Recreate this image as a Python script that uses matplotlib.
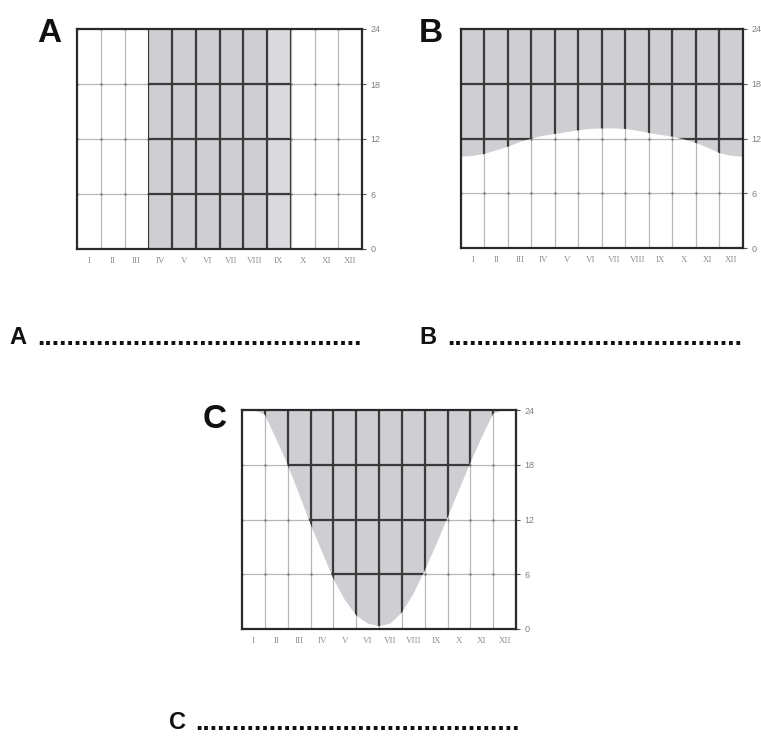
import numpy as np
import matplotlib
matplotlib.use("Agg")
import matplotlib.pyplot as plt

# ---------------- data ----------------
months = ["I", "II", "III", "IV", "V", "VI", "VII", "VIII", "IX", "X", "XI", "XII"]
hour_ticks = [0, 6, 12, 18, 24]

# Panel A: months shaded over the full 24 h
a_shaded_hours = [0, 0, 0, 24, 24, 24, 24, 24, 24, 0, 0, 0]

# Panel B / C: lower boundary of the shaded area (hours), read at half-month steps
curve_x = [0, 0.5, 1, 1.5, 2, 2.5, 3, 3.5, 4, 4.5, 5, 5.5, 6,
           6.5, 7, 7.5, 8, 8.5, 9, 9.5, 10, 10.5, 11, 11.5, 12]
b_lower = [10.0, 10.1, 10.3, 10.7, 11.1, 11.6, 12.0, 12.3, 12.5, 12.7, 12.9, 13.05, 13.1,
           13.1, 13.05, 12.85, 12.6, 12.4, 12.2, 11.9, 11.5, 11.0, 10.4, 10.1, 10.0]
c_lower = [24.0, 24.0, 23.5, 20.8, 18.0, 14.8, 11.5, 8.5, 5.5, 3.2, 1.5, 0.6, 0.3,
           0.6, 1.8, 3.8, 6.4, 9.2, 12.2, 15.2, 18.2, 21.0, 23.6, 24.0, 24.0]

SHADE = "#cfcfd3"
DARK = "#3a3a3a"
LIGHT = "#b8b8b8"

W, H = 761, 738
fig = plt.figure(figsize=(W / 100, H / 100), dpi=100)


def make_ax(x0, y0, x1, y1):
    return fig.add_axes([x0 / W, 1 - y1 / H, (x1 - x0) / W, (y1 - y0) / H])


def style(ax, shade_patches):
    ax.set_xlim(0, 12)
    ax.set_ylim(0, 24)
    # light grid everywhere
    for gx in range(1, 12):
        ax.axvline(gx, color=LIGHT, lw=0.9, zorder=2)
    for gy in hour_ticks[1:-1]:
        ax.axhline(gy, color=LIGHT, lw=0.9, zorder=2)
    gx, gy = np.meshgrid(np.arange(0, 13), hour_ticks)
    ax.scatter(gx.ravel(), gy.ravel(), s=3, color="#777777", zorder=2.5, lw=0)
    # dark grid clipped to shaded area
    for patch in shade_patches:
        for gxv in range(1, 12):
            ln = ax.axvline(gxv, color=DARK, lw=1.6, zorder=3)
            ln.set_clip_path(patch)
        for gyv in hour_ticks[1:-1]:
            ln = ax.axhline(gyv, color=DARK, lw=1.6, zorder=3)
            ln.set_clip_path(patch)
    for s in ax.spines.values():
        s.set_color("#2a2a2a")
        s.set_linewidth(1.6)
        s.set_zorder(5)
    ax.yaxis.tick_right()
    ax.set_yticks(hour_ticks)
    ax.set_yticklabels([str(h) for h in hour_ticks], fontsize=6.5, color="#808080",
                       family="Liberation Sans")
    ax.set_xticks(np.arange(12) + 0.5)
    ax.set_xticklabels(months, fontsize=6.5, color="#909090", family="Liberation Serif")
    ax.tick_params(axis="x", length=0, pad=6)
    ax.tick_params(axis="y", length=3, width=0.8, color="#555555", pad=3)


def shade_curve(ax, lower):
    xs = list(curve_x) + [12, 0]
    ys = list(lower) + [24, 24]
    polys = ax.fill(xs, ys, color=SHADE, lw=0, zorder=1)
    return polys


# Panel A
axA = make_ax(77, 29, 362, 249)
bars = axA.bar(np.arange(12), a_shaded_hours, width=1.0, align="edge",
               color=SHADE, lw=0, zorder=1)
bars[8].set_facecolor("#dadade")
style(axA, [b for b, h in zip(bars, a_shaded_hours) if h > 0])

# Panel B
axB = make_ax(461, 29, 743, 248)
style(axB, shade_curve(axB, b_lower))

# Panel C
axC = make_ax(242, 410, 516, 629)
style(axC, shade_curve(axC, c_lower))

# Panel letters
letter_kw = dict(fontsize=24, fontweight="bold", family="Liberation Sans", va="baseline",
                 color="#111111")
fig.text(37 / W, 1 - 42 / H, "A", **letter_kw)
fig.text(419 / W, 1 - 42 / H, "B", **letter_kw)
fig.text(203 / W, 1 - 428 / H, "C", **letter_kw)

# Answer lines
ans_kw = dict(fontsize=17, fontweight="bold", family="Liberation Sans", va="baseline",
              color="#111111")
dot_kw = dict(fontsize=19, fontweight="bold", family="Liberation Sans", va="baseline",
              color="#111111")
fig.text(9 / W, 1 - 344 / H, "A", **ans_kw)
fig.text(37 / W, 1 - 345 / H, "." * 44, **dot_kw)
fig.text(419 / W, 1 - 344 / H, "B", **ans_kw)
fig.text(447 / W, 1 - 345 / H, "." * 40, **dot_kw)
fig.text(169 / W, 1 - 729 / H, "C", **ans_kw)
fig.text(195 / W, 1 - 730 / H, "." * 44, **dot_kw)

fig.savefig("out.png", dpi=100, facecolor="white")
